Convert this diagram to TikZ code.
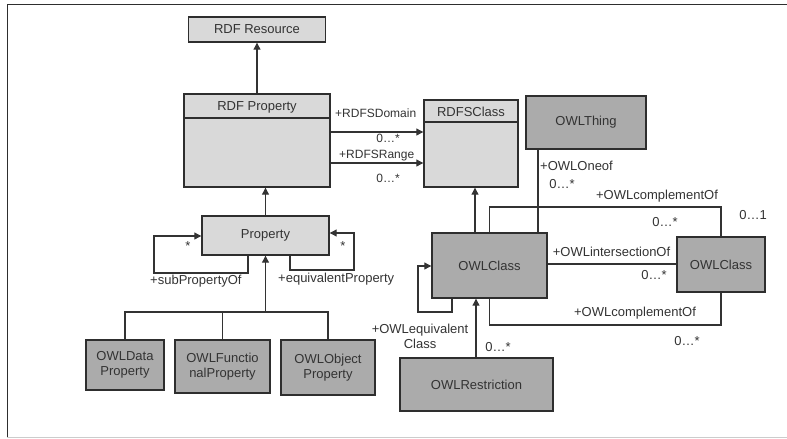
\documentclass[tikz,border=0pt]{standalone}
\usepackage{fontspec}
\setmainfont{Liberation Sans}
\usetikzlibrary{arrows.meta}
\definecolor{lightbox}{HTML}{D9D9D9}
\definecolor{darkbox}{HTML}{ABABAB}
\definecolor{ink}{HTML}{333333}
\definecolor{edge}{HTML}{2E2E2E}
\begin{document}
\begin{tikzpicture}[x=1pt,y=-1pt,
  every node/.style={text=ink},
  lbox/.style={draw=edge,line width=1.4pt,fill=lightbox,inner sep=0pt,font=\fontsize{13}{15}\selectfont,align=center},
  dbox/.style={draw=edge,line width=1.4pt,fill=darkbox,inner sep=0pt,font=\fontsize{13}{15}\selectfont,align=center},
  conn/.style={draw=ink,line width=1.1pt},
  arr/.style={conn,-{Triangle[length=7pt,width=7pt]}},
  lbl/.style={inner sep=0pt,font=\fontsize{13}{15}\selectfont},
  slbl/.style={inner sep=0pt,font=\fontsize{12}{14}\selectfont}
]
\useasboundingbox (0,0) rectangle (787,439);
% frame
\draw[edge,line width=1pt] (787,4) -- (7,4) -- (7,437);
\draw[black!20,line width=1pt] (7,437) -- (787,437);

% nodes
\node[lbox,minimum width=137pt,minimum height=25pt] (res) at (257,29.5) {RDF Resource};
\node[lbox,minimum width=146pt,minimum height=93pt] (rdfprop) at (257,140.5) {};
\node[lbl] (rdfproptitle) at (257,107) {RDF Property};
\node[lbox,minimum width=127pt,minimum height=39pt] (prop) at (265.5,235.5) {Property};
\node[dbox,minimum width=78pt,minimum height=50pt] (dataprop) at (125,365) {OWLData\\Property};
\node[dbox,minimum width=95pt,minimum height=53pt] (funcprop) at (222.5,366.5) {OWLFunctio\\nalProperty};
\node[dbox,minimum width=94pt,minimum height=55pt] (objprop) at (328,367.5) {OWLObject\\Property};
\node[lbox,minimum width=94pt,minimum height=87pt] (rdfsclass) at (471,143.5) {};
\node[lbl] (rdfsclasstitle) at (471,112) {RDFSClass};
\node[dbox,minimum width=120pt,minimum height=53pt] (thing) at (586,122.5) {OWLThing};
\node[dbox,minimum width=115pt,minimum height=65pt] (owlclass) at (489.5,265.5) {OWLClass};
\node[dbox,minimum width=88pt,minimum height=55pt] (owlclass2) at (721,264.5) {OWLClass};
\node[dbox,minimum width=153pt,minimum height=53pt] (restr) at (476.5,384.5) {OWLRestriction};

% header lines
\draw[edge,line width=1.2pt] (rdfprop.west |- 0,118) -- (rdfprop.east |- 0,118);
\draw[edge,line width=1.2pt] (rdfsclass.west |- 0,122) -- (rdfsclass.east |- 0,122);

% connectors
\draw[arr] (rdfprop.north) -- (res.south);
\draw[arr] (prop.north) -- (prop.north |- rdfprop.south);
\draw[arr] (rdfprop.east |- 0,132) -- (rdfsclass.west |- 0,132);
\draw[arr] (rdfprop.east |- 0,163) -- (rdfsclass.west |- 0,163);
\draw[arr] (prop.south -| 248,0) |- (154,273) |- (prop.west |- 0,236);
\draw[arr] (prop.south -| 290,0) |- (354,270) |- (prop.east |- 0,233);
\draw[conn] (dataprop.north) |- (objprop.north |- 0,312) -- (objprop.north);
\draw[conn] (funcprop.north) -- (funcprop.north |- 0,312);
\draw[arr] (prop.south |- 0,312) -- (prop.south);
\draw[arr] (owlclass.north -| 475,0) -- (rdfsclass.south -| 475,0);
\draw[conn] (thing.south -| 538,0) -- (owlclass.north -| 538,0);
\draw[conn] (owlclass.north) |- (owlclass2.north |- 0,207) -- (owlclass2.north);
\draw[conn] (owlclass.east |- 0,264) -- (owlclass2.west |- 0,264);
\draw[conn] (owlclass.south) |- (owlclass2.south |- 0,325) -- (owlclass2.south);
\draw[arr] (owlclass.south -| 452,0) |- (418,312) |- (owlclass.west |- 0,266);
\draw[arr] (restr.north -| 476,0) -- (owlclass.south -| 476,0);

% labels
\node[slbl,anchor=west] (ldom) at (335,113) {+RDFSDomain};
\node[slbl] (ldomm) at (388,138) {0…*};
\node[slbl,anchor=west] (lran) at (339,156) {+RDFSRange};
\node[slbl] (lranm) at (388,178) {0…*};
\node[lbl] (lsubm) at (188,246) {*};
\node[lbl] (leqm) at (343,246) {*};
\node[lbl,anchor=west] (lsub) at (150,281) {+subPropertyOf};
\node[lbl,anchor=west] (leq) at (278,279) {+equivalentProperty};
\node[lbl,anchor=west] (lone) at (540,166) {+OWLOneof};
\node[lbl] (lonem) at (562,184) {0…*};
\node[lbl] (lcomp1) at (657,196) {+OWLcomplementOf};
\node[lbl] (lcomp1m) at (665,222) {0…*};
\node[lbl] (lcomp1n) at (753,215) {0…1};
\node[lbl] (linter) at (611.5,252) {+OWLintersectionOf};
\node[lbl] (linterm) at (654,275) {0…*};
\node[lbl] (lcomp2) at (635,313) {+OWLcomplementOf};
\node[lbl] (lcomp2m) at (687,341) {0…*};
\node[lbl,align=center] (leqc) at (420,336) {+OWLequivalent\\Class};
\node[lbl] (lrestm) at (498,347) {0…*};
\end{tikzpicture}
\end{document}
